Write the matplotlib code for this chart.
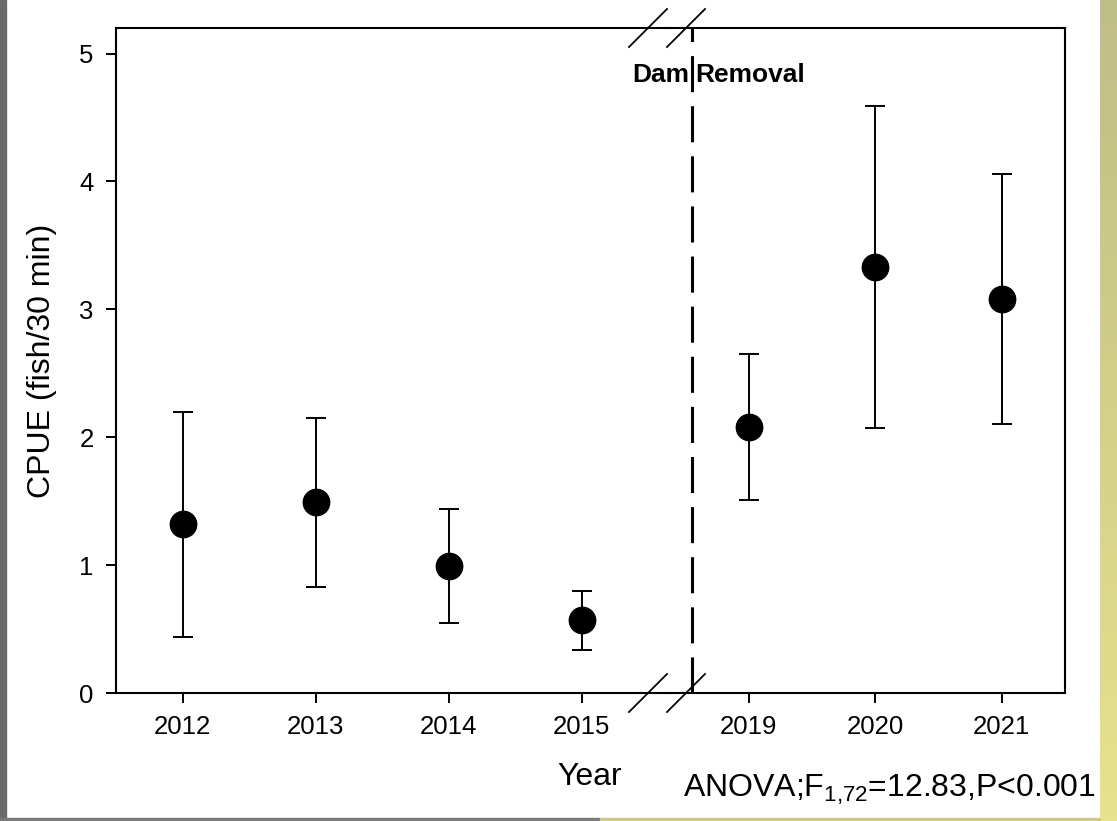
import matplotlib
matplotlib.use("Agg")
import matplotlib.pyplot as plt
import numpy as np
from matplotlib.patches import Rectangle
from matplotlib.lines import Line2D

plt.rcParams['font.family'] = ['Liberation Sans', 'DejaVu Sans']
plt.rcParams['mathtext.fontset'] = 'custom'
plt.rcParams['mathtext.rm'] = 'Liberation Sans'
plt.rcParams['mathtext.it'] = 'Liberation Sans'

# data (mean CPUE with lower / upper bounds)
years_pre = [2012, 2013, 2014, 2015]
cpue_pre = [1.32, 1.49, 0.99, 0.57]
low_pre = [0.44, 0.83, 0.55, 0.34]
high_pre = [2.20, 2.15, 1.44, 0.80]

years_post = [2019, 2020, 2021]
cpue_post = [2.08, 3.33, 3.08]
low_post = [1.51, 2.07, 2.10]
high_post = [2.65, 4.59, 4.06]

dam_removal = 2018.55
yticks = [0, 1, 2, 3, 4, 5]

W, H = 1117, 821
fig = plt.figure(figsize=(W / 100, H / 100), dpi=100)
fig.patch.set_facecolor('white')

# frame decorations of the original slide
fig.patches.append(Rectangle((0, 0), 6 / W, 1, transform=fig.transFigure,
                             color='#6b6b6b', zorder=0))
fig.patches.append(Rectangle((0, 0), 600 / W, 3 / H, transform=fig.transFigure,
                             color='#7a7a7a', zorder=0))
fig.patches.append(Rectangle((600 / W, 0), 500 / W, 3 / H, transform=fig.transFigure,
                             color='#cfc98a', zorder=0))
grad = fig.add_axes([1100 / W, 0, 17 / W, 1])
g = np.linspace(0, 1, 100)[:, None]
top_c = np.array([190, 190, 135]) / 255
bot_c = np.array([232, 226, 140]) / 255
img = (bot_c * g[..., None] + top_c * (1 - g[..., None]))[::-1]
grad.imshow(np.repeat(img, 2, axis=1), aspect='auto', origin='lower')
grad.axis('off')

# axes geometry in pixels
left_px, split_px, right_px = 116, 667, 1065
top_px, bot_px = 28, 693
b = (H - bot_px) / H
h = (bot_px - top_px) / H
ax1 = fig.add_axes([left_px / W, b, (split_px - left_px) / W, h])
ax2 = fig.add_axes([split_px / W, b, (right_px - split_px) / W, h], sharey=ax1)

lw_spine = 1.5
for ax in (ax1, ax2):
    for s in ax.spines.values():
        s.set_linewidth(lw_spine)
    ax.tick_params(direction='out', length=7, width=1.4, labelsize=18.5, pad=9)
ax1.spines['right'].set_visible(False)
ax2.spines['left'].set_visible(False)
ax2.tick_params(axis='y', left=False, labelleft=False)

ax1.set_ylim(0, 5.2)
ax1.set_yticks(yticks)
ax1.set_xlim(2011.5, 2015.64)
ax2.set_xlim(2018.352, 2021.5)
ax1.set_xticks(years_pre)
ax2.set_xticks(years_post)

ekw = dict(fmt='o', color='black', ms=19, elinewidth=1.4, capsize=7.2,
           capthick=1.4, zorder=3, clip_on=False)
pre = np.array(cpue_pre)
post = np.array(cpue_post)
ax1.errorbar(years_pre, pre, yerr=[pre - np.array(low_pre), np.array(high_pre) - pre], **ekw)
ax2.errorbar(years_post, post, yerr=[post - np.array(low_post), np.array(high_post) - post], **ekw)

ax2.axvline(dam_removal, color='black', lw=2.2, linestyle=(0, (11.8, 4.6)), zorder=2)
ax2.annotate('Dam', (dam_removal, 4.78), xytext=(-2, 0), textcoords='offset points',
             ha='right', va='baseline', fontsize=19, fontweight='bold')
ax2.annotate('Removal', (dam_removal, 4.78), xytext=(2, 0), textcoords='offset points',
             ha='left', va='baseline', fontsize=19, fontweight='bold')

ax1.set_ylabel('CPUE (fish/30 min)', fontsize=23, labelpad=16)

# break marks on top and bottom axis lines
for cx in (split_px - 19, split_px + 19):
    for cy in (top_px, bot_px):
        fig.lines.append(Line2D([(cx - 19) / W, (cx + 19) / W],
                                [(H - cy - 19) / H, (H - cy + 19) / H],
                                transform=fig.transFigure, color='black', lw=1.3))

fig.text(590 / W, (H - 785) / H, 'Year', ha='center', va='baseline', fontsize=23)
fig.text(683 / W, (H - 797) / H, r'ANOVA;F$_{\mathrm{1{,}72}}$=12.83,P<0.001',
         ha='left', va='baseline', fontsize=23)

fig.savefig('out.png', dpi=100)
